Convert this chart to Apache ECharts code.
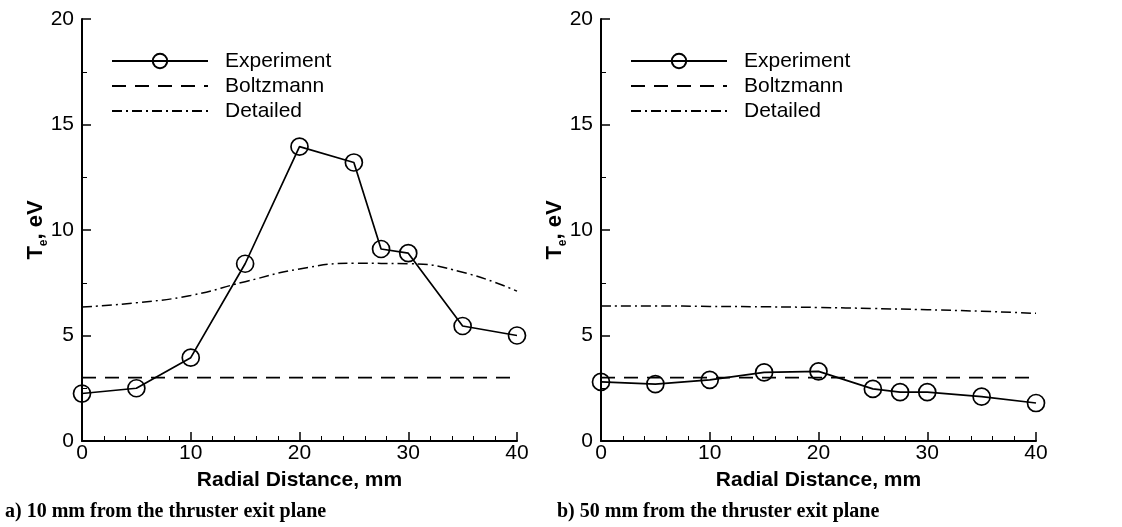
<!DOCTYPE html>
<html>
<head>
<meta charset="utf-8">
<script src="https://cdn.jsdelivr.net/npm/echarts@6/dist/echarts.min.js"></script>
<style>
  html, body { margin: 0; padding: 0; background: #fff; }
  #chart { width: 1122px; height: 527px; }
</style>
</head>
<body>
<div id="chart"></div>
<script>
// radial positions, mm
const radialA = [0, 5, 10, 15, 20, 25, 27.5, 30, 35, 40]
const radialB = [0, 5, 10, 15, 20, 25, 27.5, 30, 35, 40]
// measured Te, eV
const experimentA = [2.25, 2.5, 3.95, 8.4, 13.95, 13.2, 9.1, 8.9, 5.45, 5.0]
const experimentB = [2.8, 2.7, 2.9, 3.25, 3.3, 2.47, 2.32, 2.32, 2.1, 1.8]
// model curves
const boltzmannX = [0, 40]
const boltzmannA = [3.0, 3.0]
const boltzmannB = [3.0, 3.0]
const detailedX = [0, 5, 10, 15, 20, 25, 30, 35, 40]
const detailedA = [6.35, 6.55, 6.9, 7.55, 8.15, 8.42, 8.4, 8.0, 7.1]
const detailedB = [6.4, 6.4, 6.38, 6.36, 6.33, 6.28, 6.22, 6.15, 6.05]
const captions = ['a) 10 mm from the thruster exit plane', 'b) 50 mm from the thruster exit plane']

const pair = (xs, ys) => xs.map((x, i) => [x, ys[i]])

const font = '"Liberation Sans", Arial, sans-serif'
const dashDot = [10, 4, 2, 4]

const panels = [
  { left: 82, exp: experimentA, x: radialA, bz: boltzmannA, det: detailedA },
  { left: 601, exp: experimentB, x: radialB, bz: boltzmannB, det: detailedB }
]

const grid = panels.map(p => ({ left: p.left, width: 435, top: 19, bottom: 86 }))

const xAxis = panels.map((p, i) => ({
  type: 'value', gridIndex: i, min: 0, max: 40, interval: 10,
  name: 'Radial Distance, mm', nameLocation: 'middle', nameGap: 29,
  nameTextStyle: { fontFamily: font, fontSize: 21, fontWeight: 'bold', color: '#000' },
  axisLine: { lineStyle: { color: '#000', width: 2 } },
  axisTick: { inside: true, length: 9, lineStyle: { color: '#000', width: 1.5 } },
  minorTick: { show: true, splitNumber: 5, length: 5, lineStyle: { color: '#000', width: 1 } },
  axisLabel: { fontFamily: font, fontSize: 21, color: '#000', margin: 2 },
  splitLine: { show: false }
}))

const yAxis = panels.map((p, i) => ({
  type: 'value', gridIndex: i, min: 0, max: 20, interval: 5,
  name: '{t|T}{s|e}{t|, eV}', nameLocation: 'middle', nameGap: 35, nameRotate: 90,
  nameMoveOverlap: false,
  nameTextStyle: {
    rich: {
      t: { fontFamily: font, fontSize: 22, fontWeight: 'bold', color: '#000', lineHeight: 24, verticalAlign: 'bottom' },
      s: { fontFamily: font, fontSize: 12, fontWeight: 'bold', color: '#000', lineHeight: 24, verticalAlign: 'bottom', padding: [0, 0, -3, 0] }
    }
  },
  axisLine: { show: true, lineStyle: { color: '#000', width: 2 } },
  axisTick: { show: true, inside: true, length: 9, lineStyle: { color: '#000', width: 1.5 } },
  minorTick: { show: true, splitNumber: 2, length: 5, lineStyle: { color: '#000', width: 1 } },
  axisLabel: { fontFamily: font, fontSize: 21, color: '#000', margin: 8 },
  splitLine: { show: false }
}))

const series = []
panels.forEach((p, i) => {
  series.push({
    name: 'Experiment', type: 'line', xAxisIndex: i, yAxisIndex: i,
    data: pair(p.x, p.exp),
    symbol: 'circle', symbolSize: 17,
    lineStyle: { color: '#000', width: 1.7 },
    itemStyle: { color: 'rgba(255,255,255,0)', borderColor: '#000', borderWidth: 1.7 },
    z: 3
  })
  series.push({
    name: 'Boltzmann', type: 'line', xAxisIndex: i, yAxisIndex: i,
    data: pair(boltzmannX, p.bz), symbol: 'none',
    lineStyle: { color: '#000', width: 1.7, type: [14, 9] },
    itemStyle: { color: '#000' }
  })
  series.push({
    name: 'Detailed', type: 'line', xAxisIndex: i, yAxisIndex: i,
    data: pair(detailedX, p.det), symbol: 'none', smooth: true,
    lineStyle: { color: '#000', width: 1.5, type: dashDot },
    itemStyle: { color: '#000' }
  })
})

const legend = panels.map(p => ({
  left: p.left + 24, top: 45, orient: 'vertical',
  itemWidth: 96, itemHeight: 18, itemGap: 3,
  selectedMode: false,
  textStyle: { fontFamily: font, fontSize: 21, color: '#000', lineHeight: 22, padding: [0, 0, 0, 12] },
  data: [
    { name: 'Experiment' },
    { name: 'Boltzmann', itemStyle: { opacity: 0 } },
    { name: 'Detailed', itemStyle: { opacity: 0 } }
  ]
}))

const chart = echarts.init(document.getElementById('chart'))
chart.setOption({
  animation: false,
  backgroundColor: '#fff',
  grid, xAxis, yAxis, series, legend,
  graphic: captions.map((c, i) => ({
    type: 'text', left: i === 0 ? 5 : 557, top: 502,
    style: { text: c, font: 'bold 20px "Liberation Serif", "Times New Roman", serif', fill: '#000' }
  }))
})
</script>
</body>
</html>
